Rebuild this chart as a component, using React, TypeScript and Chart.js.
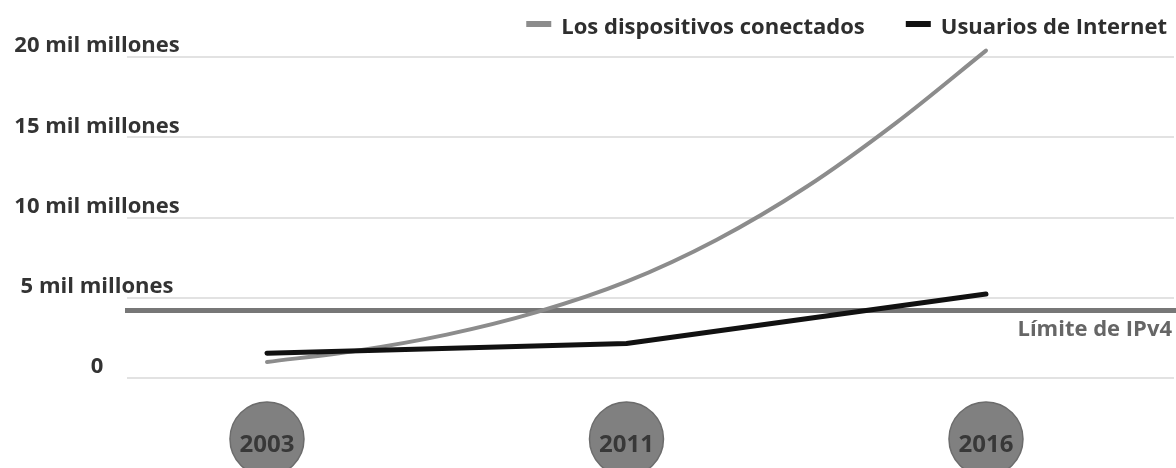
import React, { useEffect, useRef } from 'react';
import { Chart, registerables } from 'chart.js';

Chart.register(...registerables);

// ---- data ----
const categories = ['2003', '2011', '2016'];
const yTickValues = [0, 5, 10, 15, 20];
const yTickLabels = ['0', '5 mil millones', '10 mil millones', '15 mil millones', '20 mil millones'];

const deviceLabel = 'Los dispositivos conectados';
const devicePositions = [0, 0.25, 0.5, 0.75, 1, 1.25, 1.5, 1.75, 2];
const deviceValues = [1.0, 1.7, 2.7, 4.1, 6.0, 8.6, 11.9, 15.9, 20.4];

const userLabel = 'Usuarios de Internet';
const userPositions = [0, 1, 2];
const userValues = [1.54, 2.15, 5.23];

const ipv4Label = 'Límite de IPv4';
const ipv4Limit = 4.2;

const FONT = '"Open Sans", "DejaVu Sans", sans-serif';
const Y_FONT_SIZE = 22;

const badgePlugin = {
  id: 'yearBadges',
  beforeDraw(chart: any) {
    const xs = chart.scales.x;
    const ctx = chart.ctx;
    const cy = chart.chartArea.bottom + 61;
    ctx.save();
    xs.ticks.forEach((t: any) => {
      const px = xs.getPixelForValue(t.value);
      ctx.beginPath();
      ctx.arc(px, cy, 37, 0, Math.PI * 2);
      ctx.fillStyle = '#808080';
      ctx.fill();
      ctx.lineWidth = 1.5;
      ctx.strokeStyle = '#6c6c6c';
      ctx.stroke();
    });
    ctx.restore();
  },
};

const ipv4Plugin = {
  id: 'ipv4Line',
  beforeDatasetsDraw(chart: any) {
    const ys = chart.scales.y;
    const ctx = chart.ctx;
    const py = ys.getPixelForValue(ipv4Limit);
    ctx.save();
    ctx.beginPath();
    ctx.moveTo(chart.chartArea.left - 2, py);
    ctx.lineTo(chart.width, py);
    ctx.lineWidth = 5;
    ctx.strokeStyle = '#777777';
    ctx.stroke();
    ctx.font = `bold 22px ${FONT}`;
    ctx.fillStyle = '#666666';
    ctx.textAlign = 'right';
    ctx.textBaseline = 'alphabetic';
    ctx.fillText(ipv4Label, chart.width - 4, py + 25);
    ctx.restore();
  },
};

const legendPlugin = {
  id: 'customLegend',
  afterDraw(chart: any) {
    const ctx = chart.ctx;
    const ds = chart.data.datasets;
    ctx.save();
    ctx.font = `bold 22px ${FONT}`;
    ctx.textAlign = 'left';
    ctx.textBaseline = 'alphabetic';
    let xEnd = chart.width - 9;
    for (let i = ds.length - 1; i >= 0; i--) {
      const w = ctx.measureText(ds[i].label).width;
      const tx = xEnd - w;
      ctx.fillStyle = '#2e2e2e';
      ctx.fillText(ds[i].label, tx, 34);
      ctx.fillStyle = ds[i].borderColor;
      ctx.fillRect(tx - 10 - 25, 21, 25, 6);
      xEnd = tx - 10 - 25 - 41;
    }
    ctx.restore();
  },
};

export default function App() {
  const ref = useRef<HTMLCanvasElement | null>(null);

  useEffect(() => {
    document.body.style.margin = '0';
    document.body.style.overflow = 'hidden';
    if (!ref.current) return;

    // measure widest y label so labels can be centred left of the plot
    const mctx = document.createElement('canvas').getContext('2d')!;
    mctx.font = `bold ${Y_FONT_SIZE}px ${FONT}`;
    const widest = Math.max(...yTickLabels.map((t) => mctx.measureText(t).width));
    const Y_LABEL_CENTER = 97;
    const AXIS_W = 127;
    const yPad = Y_LABEL_CENTER - AXIS_W - widest / 2;

    const chart = new Chart(ref.current, {
      type: 'line',
      data: {
        datasets: [
          {
            label: deviceLabel,
            data: devicePositions.map((x, i) => ({ x, y: deviceValues[i] })),
            borderColor: '#8c8c8c',
            backgroundColor: '#8c8c8c',
            borderWidth: 4,
            pointRadius: 0,
            cubicInterpolationMode: 'monotone',
            borderCapStyle: 'round',
            clip: false,
            order: 1,
          } as any,
          {
            label: userLabel,
            data: userPositions.map((x, i) => ({ x, y: userValues[i] })),
            borderColor: '#111111',
            backgroundColor: '#111111',
            borderWidth: 5,
            pointRadius: 0,
            tension: 0,
            borderCapStyle: 'round',
            borderJoinStyle: 'round',
            clip: false,
            order: 0,
          } as any,
        ],
      },
      options: {
        responsive: false,
        animation: false,
        events: [],
        layout: { padding: { top: 57, right: 2, left: 0, bottom: 0 } },
        plugins: {
          legend: { display: false },
          tooltip: { enabled: false },
        },
        scales: {
          x: {
            type: 'linear',
            min: -0.3894,
            max: 2.523,
            afterBuildTicks: (s: any) => {
              s.ticks = categories.map((_, i) => ({ value: i }));
            },
            afterFit: (s: any) => {
              s.height = 90;
            },
            grid: { display: false },
            border: { display: false },
            ticks: {
              autoSkip: false,
              maxRotation: 0,
              padding: 45,
              color: '#383838',
              font: { family: FONT, size: 24, weight: 'bold' },
              callback: (v: any) => categories[Math.round(Number(v))] ?? '',
            },
          },
          y: {
            min: 0,
            max: 20,
            afterBuildTicks: (s: any) => {
              s.ticks = yTickValues.map((v) => ({ value: v }));
            },
            afterFit: (s: any) => {
              s.width = AXIS_W;
            },
            grid: { color: '#e2e2e2', lineWidth: 2, drawTicks: false },
            border: { display: false },
            ticks: {
              mirror: true,
              crossAlign: 'center',
              padding: yPad,
              labelOffset: -11,
              color: '#333333',
              font: { family: FONT, size: Y_FONT_SIZE, weight: 'bold' },
              callback: (_v: any, i: number) => yTickLabels[i],
            },
          },
        },
      } as any,
      plugins: [badgePlugin, ipv4Plugin, legendPlugin],
    });
    return () => chart.destroy();
  }, []);

  return (
    <div style={{ width: 1176, height: 468 }}>
      <canvas ref={ref} width={1176} height={468} style={{ display: 'block' }} />
    </div>
  );
}
